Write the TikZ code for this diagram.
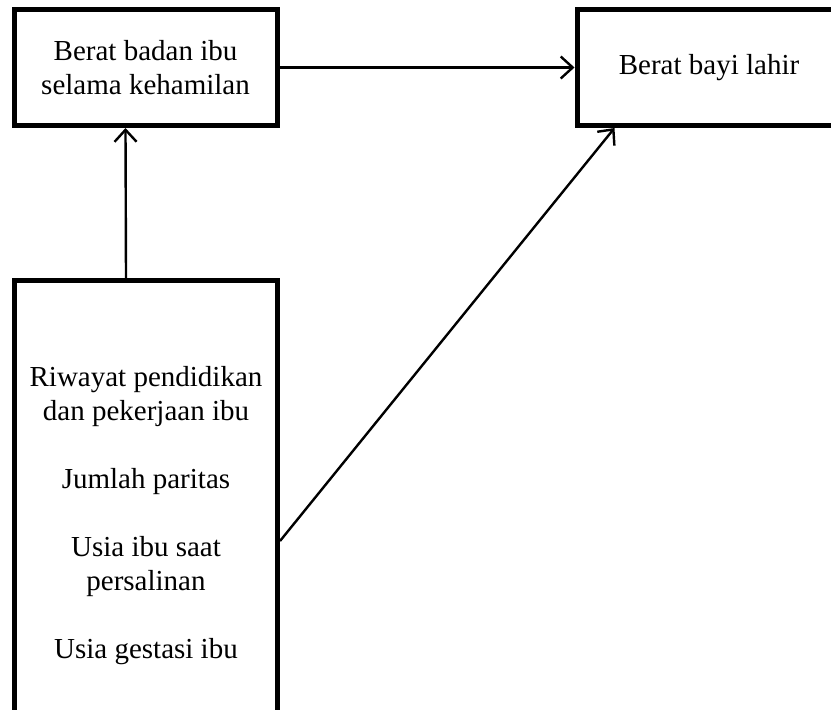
\documentclass[tikz,border=0pt]{standalone}
\usepackage{fontspec}
\setmainfont{Liberation Serif}
\usetikzlibrary{arrows.meta}
\tikzset{
    box/.style={draw, line width=5pt, align=center, inner sep=0pt,
        font=\fontsize{29pt}{34pt}\selectfont},
    link/.style={->, line width=2.4pt},
}
\begin{document}
\begin{tikzpicture}[>={Straight Barb[length=12pt,width=22pt]}, x=1pt, y=-1pt]
    \clip (0,0) rectangle (831,710);
    \node[box, minimum width=263pt, minimum height=116pt] (berat) at (145.5,67.5)
        {Berat badan ibu\\selama kehamilan};
    \node[box, minimum width=264pt, minimum height=116pt] (bayi) at (709,67.5)
        {Berat bayi lahir};
    \node[box, minimum width=263pt, minimum height=471pt] (faktor) at (146,516)
        {Riwayat pendidikan\\dan pekerjaan ibu\\[34pt]Jumlah paritas\\[34pt]Usia ibu saat\\persalinan\\[34pt]Usia gestasi ibu};
    % connectors
    \draw[link](berat)--(bayi);
    \draw[link]([xshift=-20pt]faktor.north)--([xshift=-20pt]berat.south);
    \draw[link]([yshift=-25pt]faktor.east)--([xshift=40pt]bayi.south west);
\end{tikzpicture}
\end{document}
